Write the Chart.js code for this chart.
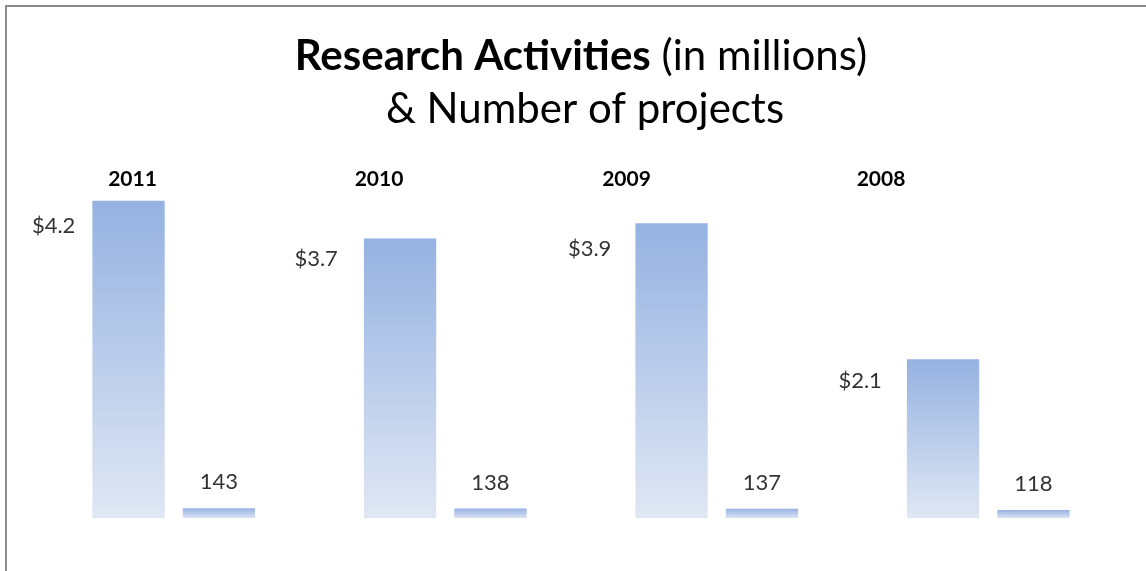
<!DOCTYPE html>
<html>
<head>
<meta charset="utf-8">
<title>Research Activities</title>
<script src="https://cdn.jsdelivr.net/npm/chart.js@4"></script>
<style>
  html, body { margin: 0; padding: 0; background: #fff; }
  #wrap { width: 1146px; height: 571px; }
</style>
</head>
<body>
<div id="wrap"><canvas id="researchChart" width="1146" height="571"></canvas></div>
<script>
// data
const years = ['2011', '2010', '2009', '2008'];
const funding = [4.2, 3.7, 3.9, 2.1];      // $ millions
const projects = [143, 138, 137, 118];     // number of projects

// hand-placed labels: year headings drift left of the funding bar,
// funding labels sit left of their bar at slightly different spots
const yearShift = [4, -21, -45, -62];
const fundLabelGap = [17, 26, 24, 25];
const fundLabelDrop = [25, 20, 26, 22];

const FONT = 'Lato, "Open Sans", sans-serif';

function barGradient(topColor, bottomColor) {
    return function(c) {
        const chart = c.chart;
        if (!chart.chartArea) return topColor;
        const ds = chart.data.datasets[c.datasetIndex];
        const scale = chart.scales[ds.yAxisID];
        const yTop = scale.getPixelForValue(ds.data[c.dataIndex]);
        const yBase = scale.getPixelForValue(0);
        const g = chart.ctx.createLinearGradient(0, yTop, 0, yBase);
        g.addColorStop(0, topColor);
        g.addColorStop(1, bottomColor);
        return g;
    };
}

// grey frame, title and the value / year labels
const decorations = {
    id: 'decorations',
    beforeDraw(chart) {
        const ctx = chart.ctx;
        ctx.save();
        ctx.fillStyle = '#8c8c8c';
        ctx.fillRect(5, 5, chart.width - 5, 2);
        ctx.fillRect(5, 5, 2, chart.height - 5);
        ctx.restore();
    },
    afterDatasetsDraw(chart) {
        const ctx = chart.ctx;
        ctx.save();

        // title, first line mixes bold and regular
        const cx = 581;
        const boldPart = 'Research Activities';
        const plainPart = ' (in millions)';
        ctx.fillStyle = '#000';
        ctx.textBaseline = 'alphabetic';
        ctx.font = 'bold 42px ' + FONT;
        const wBold = ctx.measureText(boldPart).width;
        ctx.font = '42px ' + FONT;
        const wPlain = ctx.measureText(plainPart).width;
        let x = cx - (wBold + wPlain) / 2;
        ctx.textAlign = 'left';
        ctx.font = 'bold 42px ' + FONT;
        ctx.fillText(boldPart, x, 70);
        ctx.font = '42px ' + FONT;
        ctx.fillText(plainPart, x + wBold, 70);
        ctx.textAlign = 'center';
        ctx.fillText('& Number of projects', cx + 4, 123);

        const moneyBars = chart.getDatasetMeta(0).data;
        const projBars = chart.getDatasetMeta(1).data;

        ctx.textBaseline = 'middle';
        moneyBars.forEach((bar, i) => {
            // year heading
            ctx.fillStyle = '#000';
            ctx.textAlign = 'center';
            ctx.font = 'bold 21px ' + FONT;
            ctx.fillText(years[i], bar.x + yearShift[i], 179);

            // funding value to the left of the bar
            ctx.fillStyle = '#333';
            ctx.textAlign = 'right';
            ctx.font = '22px ' + FONT;
            ctx.fillText('$' + funding[i].toFixed(1),
                bar.x - bar.width / 2 - fundLabelGap[i], bar.y + fundLabelDrop[i]);
        });

        projBars.forEach((bar, i) => {
            ctx.fillStyle = '#333';
            ctx.textAlign = 'center';
            ctx.font = '22px ' + FONT;
            ctx.fillText(String(projects[i]), bar.x, bar.y - 26);
        });

        ctx.restore();
    }
};

const ctx = document.getElementById('researchChart').getContext('2d');

const researchChart = new Chart(ctx, {
    type: 'bar',
    data: {
        labels: years,
        datasets: [{
            label: 'Research Activities (in millions)',
            data: funding,
            yAxisID: 'y',
            backgroundColor: barGradient('#95b2e1', '#e0e7f4'),
            borderWidth: 0
        }, {
            label: 'Number of projects',
            data: projects,
            yAxisID: 'y2',
            backgroundColor: barGradient('#97b1e3', '#dae3f4'),
            borderWidth: 0
        }]
    },
    options: {
        responsive: false,
        animation: false,
        categoryPercentage: 0.666,
        barPercentage: 0.8,
        layout: {
            padding: { left: 38, right: 22, top: 178, bottom: 53 }
        },
        plugins: {
            legend: { display: false },
            title: { display: false },
            tooltip: { enabled: false }
        },
        scales: {
            x: { display: false },
            y: { display: false, min: 0, max: 4.5 },
            y2: { display: false, min: 0, max: 5000 }
        }
    },
    plugins: [decorations]
});
</script>
</body>
</html>
